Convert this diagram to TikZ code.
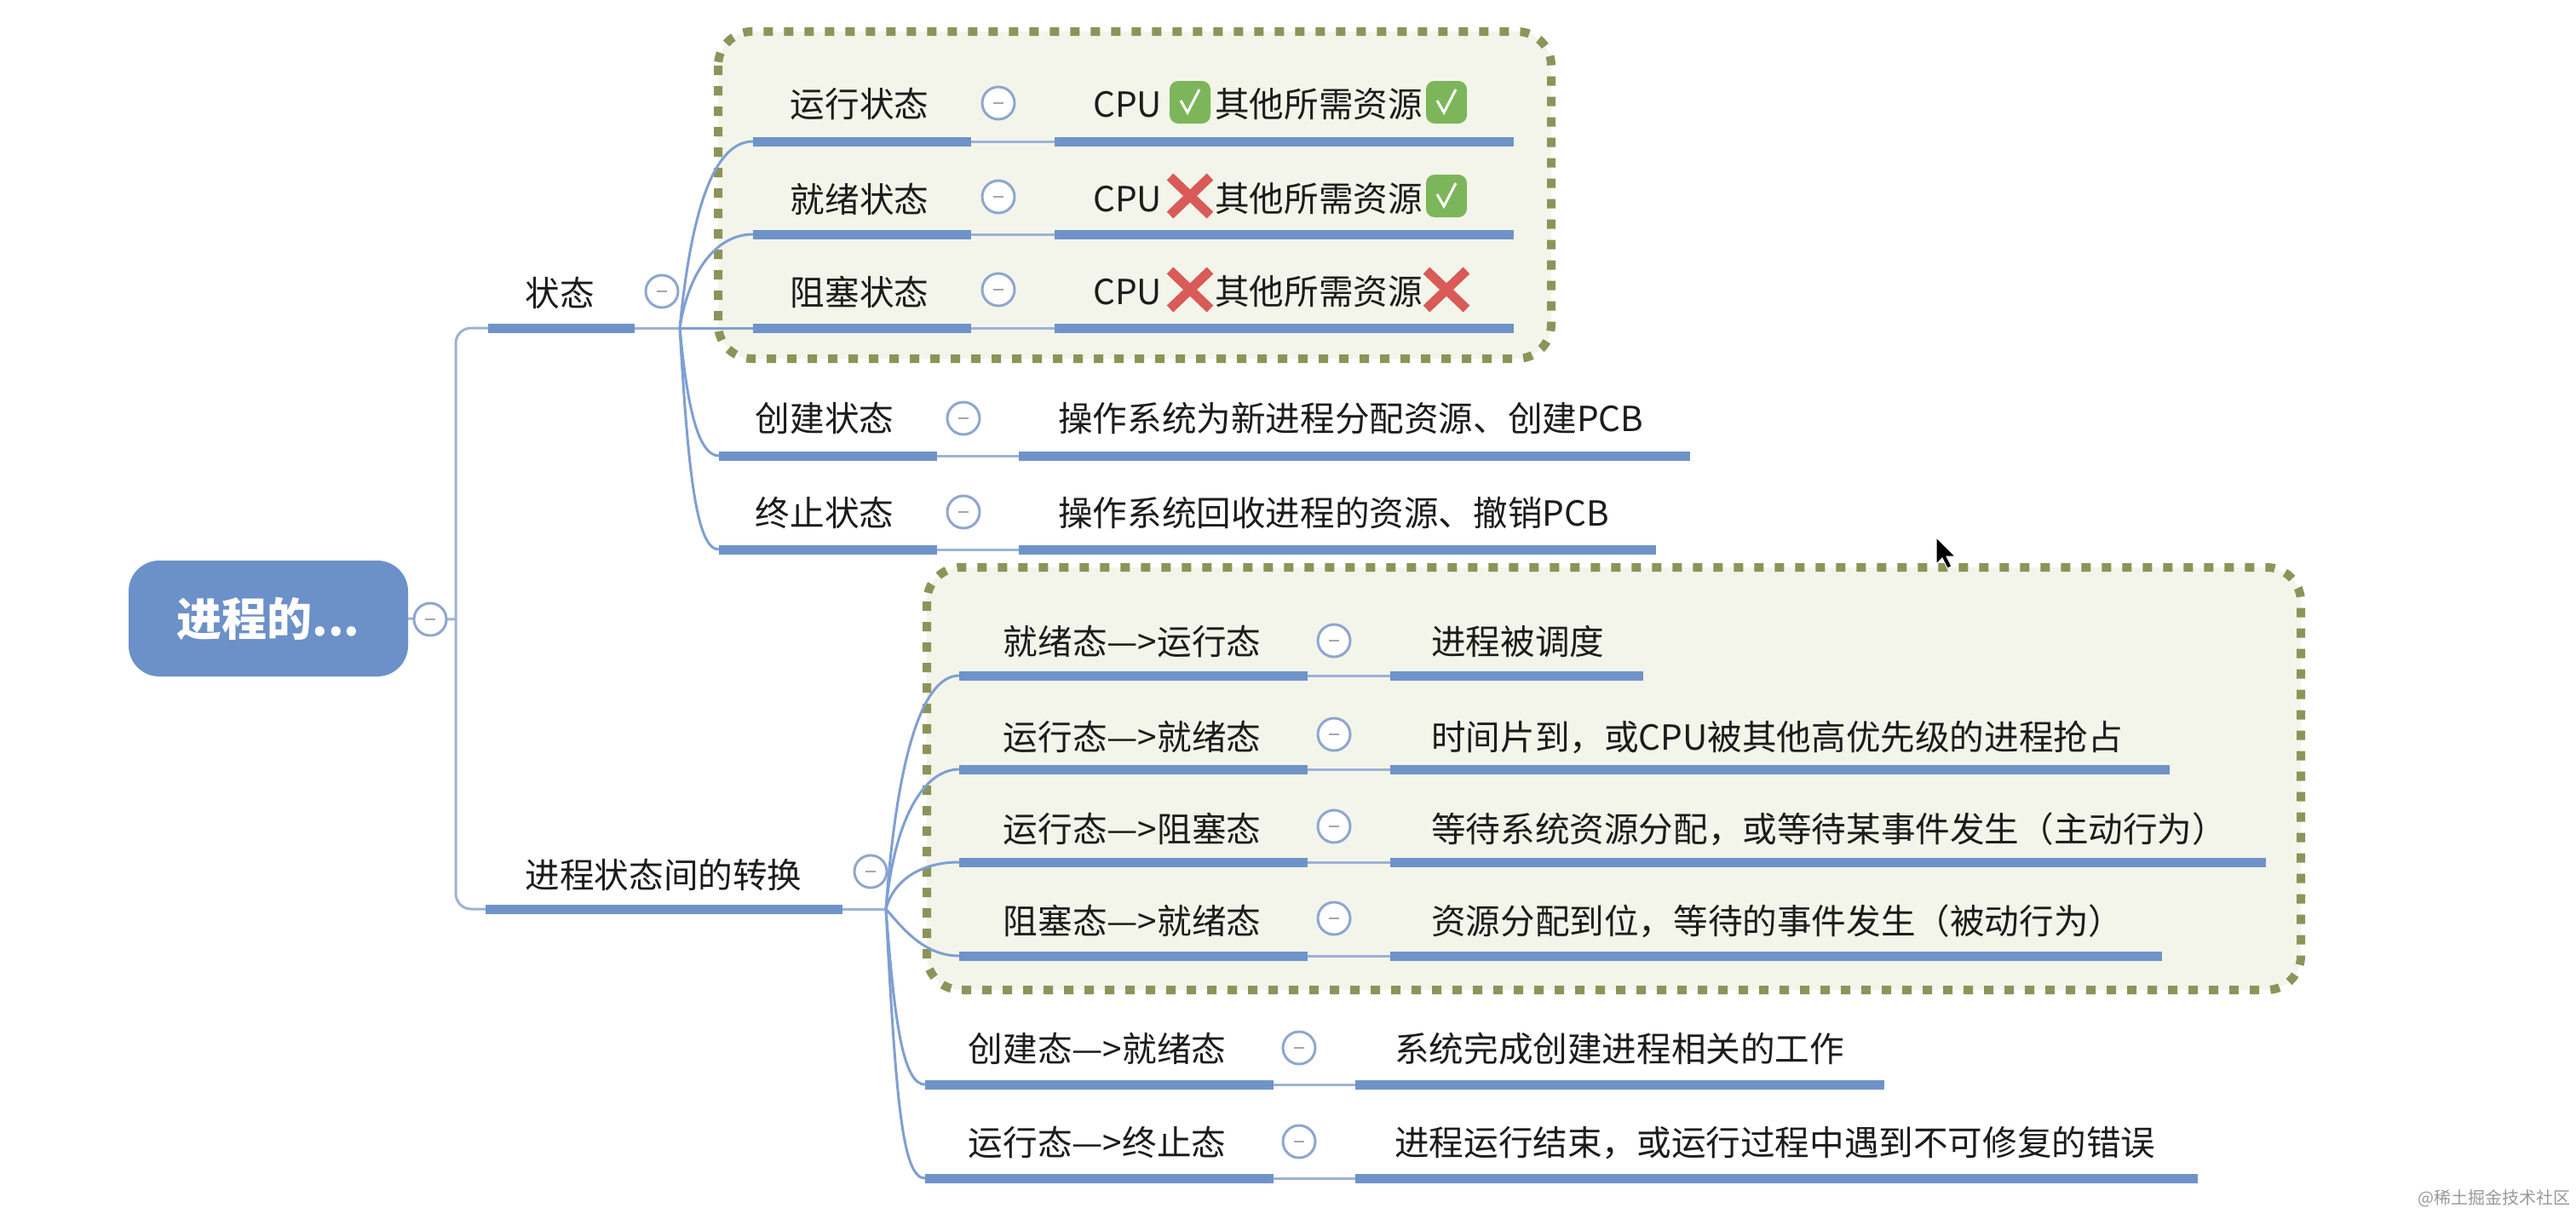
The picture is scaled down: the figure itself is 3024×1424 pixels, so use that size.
\documentclass[tikz,border=0pt]{standalone}
\usepackage{fontspec}
\setmainfont{Noto Sans CJK SC}
\usetikzlibrary{shapes.misc}
\definecolor{barblue}{HTML}{6F93C9}
\definecolor{rootblue}{HTML}{6C90C8}
\definecolor{linkblue}{HTML}{9DB2D8}
\definecolor{curveblue}{HTML}{7F9FD2}
\definecolor{togblue}{HTML}{8FA6CF}
\definecolor{dotgreen}{HTML}{8C9459}
\definecolor{boxfill}{HTML}{F3F5EA}
\definecolor{inktext}{HTML}{1C1C1C}
\definecolor{okgreen}{HTML}{7DB65A}
\definecolor{nored}{HTML}{D95A57}
\tikzset{
  lblstyle/.style={inner sep=0pt,text=inktext,font=\fontsize{40.6}{41}\selectfont,text height=35pt,text depth=6pt},
  barstyle/.style={rectangle,fill=barblue,inner sep=0pt,minimum height=11pt,anchor=west,draw=none},
  togstyle/.style={circle,draw=togblue,line width=3pt,fill=white,inner sep=0pt,minimum size=38pt},
  linkstyle/.style={draw=linkblue,line width=3pt},
  curvestyle/.style={draw=curveblue,line width=3pt},
  groupbox/.style={draw=dotgreen,fill=boxfill,line width=10pt,dash pattern=on 11pt off 13pt,rounded corners=40pt},
  okstyle/.style={rectangle,rounded corners=10pt,fill=okgreen,inner sep=0pt,minimum width=48pt,minimum height=50pt},
  nostyle/.style={cross out,draw=nored,line width=11pt,inner sep=0pt,minimum width=36pt,minimum height=34pt},
}
\newcommand\lblc[4]{\node[lblstyle,anchor=center] (#1) at (#2,#3) {#4};}
\newcommand\lbll[4]{\node[lblstyle,anchor=west] (#1) at (#2,#3) {#4};}
\newcommand\mybar[4]{\node[barstyle,minimum width={#3-#2}] (#1) at (#2,#4) {};}
\newcommand\tog[3]{\node[togstyle] (#1) at (#2,#3) {};\draw[line width=2pt,color=gray!70] ([xshift=-6pt]#1.center) -- ([xshift=6pt]#1.center);}
\newcommand\okm[3]{\node[okstyle] (#1) at (#2,#3) {};\draw[white,line width=3pt] ([xshift=-11pt,yshift=2pt]#1.center) -- ([xshift=-3pt,yshift=-12pt]#1.center) -- ([xshift=11pt,yshift=15pt]#1.center);}
\newcommand\nom[3]{\node[nostyle] (#1) at (#2,#3) {};}
\begin{document}
\begin{tikzpicture}[x=1pt,y=-1pt]
\useasboundingbox (0,0) rectangle (3024,1424);
\fill[white] (0,0) rectangle (3024,1424);
% group boxes
\draw[groupbox] (843,37) rectangle (1821,421);
\draw[groupbox] (1088,666) rectangle (2701,1162);
% hubs
\coordinate (hubroot) at (535,727);
\coordinate (hubst) at (798,385);
\coordinate (hubtr) at (1040,1067);
% root
\node[rectangle,rounded corners=36pt,fill=rootblue,text=white,inner sep=0pt,minimum width=328pt,minimum height=136pt,font=\fontsize{53}{53}\selectfont\bfseries] (root) at (315,726) {进程的...};
% level 1 bars
\mybar{st}{573}{745}{385}
\mybar{tr}{570}{989}{1067}
% state bars
\mybar{a1}{884}{1140}{166}\mybar{a2}{1238}{1777}{166}
\mybar{b1}{884}{1140}{275}\mybar{b2}{1238}{1777}{275}
\mybar{c1}{884}{1140}{385}\mybar{c2}{1238}{1777}{385}
\mybar{d1}{844}{1100}{535}\mybar{d2}{1196}{1984}{535}
\mybar{e1}{844}{1100}{645}\mybar{e2}{1196}{1944}{645}
% transition bars
\mybar{f1}{1126}{1535}{793}\mybar{f2}{1632}{1929}{793}
\mybar{g1}{1126}{1535}{903}\mybar{g2}{1632}{2547}{903}
\mybar{h1}{1126}{1535}{1012}\mybar{h2}{1632}{2660}{1012}
\mybar{i1}{1126}{1535}{1122}\mybar{i2}{1632}{2538}{1122}
\mybar{j1}{1086}{1495}{1273}\mybar{j2}{1591}{2212}{1273}
\mybar{k1}{1086}{1495}{1383}\mybar{k2}{1591}{2580}{1383}
% connectors
\draw[linkstyle] (root.east) -- (hubroot);
\draw[linkstyle,rounded corners=18pt] (hubroot) |- (st.west);
\draw[linkstyle,rounded corners=18pt] (hubroot) |- (tr.west);
\draw[linkstyle] (st.east) -- (hubst);
\draw[linkstyle] (tr.east) -- (hubtr);
\foreach \p/\q in {a1/a2,b1/b2,c1/c2,d1/d2,e1/e2,f1/f2,g1/g2,h1/h2,i1/i2,j1/j2,k1/k2}
  \draw[linkstyle] (\p.east) -- (\q.west);
\draw[curvestyle] (hubst) .. controls (812,240) and (840,166) .. (a1.west);
\draw[curvestyle] (hubst) .. controls (808,320) and (840,275) .. (b1.west);
\draw[curvestyle] (hubst) -- (c1.west);
\draw[curvestyle] (hubst) .. controls (806,470) and (818,535) .. (d1.west);
\draw[curvestyle] (hubst) .. controls (808,560) and (818,645) .. (e1.west);
\draw[curvestyle] (hubtr) .. controls (1052,900) and (1080,793) .. (f1.west);
\draw[curvestyle] (hubtr) .. controls (1050,960) and (1085,903) .. (g1.west);
\draw[curvestyle] (hubtr) .. controls (1050,1030) and (1085,1012) .. (h1.west);
\draw[curvestyle] (hubtr) .. controls (1060,1090) and (1085,1122) .. (i1.west);
\draw[curvestyle] (hubtr) .. controls (1050,1200) and (1060,1273) .. (j1.west);
\draw[curvestyle] (hubtr) .. controls (1052,1300) and (1060,1383) .. (k1.west);
% toggles
\tog{trt}{505}{727}
\tog{tst}{777}{342}
\tog{ttr}{1022}{1023}
\tog{ta}{1172}{121}\tog{tb}{1172}{231}\tog{tc}{1172}{340}
\tog{td}{1131}{491}\tog{te}{1131}{601}
\tog{tf}{1566}{752}\tog{tg}{1566}{862}\tog{th}{1566}{970}\tog{ti}{1566}{1078}
\tog{tj}{1525}{1230}\tog{tk}{1525}{1340}
% labels
\lblc{lst}{657}{345}{状态}
\lblc{ltr}{779}{1028}{进程状态间的转换}
\lblc{la}{1009}{123}{运行状态}
\lblc{lb}{1009}{235}{就绪状态}
\lblc{lc}{1009}{344}{阻塞状态}
\lblc{ld}{968}{492}{创建状态}
\lblc{le}{968}{603}{终止状态}
\lbll{acpu}{1283}{123}{CPU}\okm{ay}{1397}{120}\lbll{ares}{1426}{123}{其他所需资源}\okm{az}{1698}{120}
\lbll{bcpu}{1283}{234}{CPU}\nom{by}{1397}{230}\lbll{bres}{1426}{234}{其他所需资源}\okm{bz}{1698}{230}
\lbll{ccpu}{1283}{343}{CPU}\nom{cy}{1397}{340}\lbll{cres}{1426}{343}{其他所需资源}\nom{cz}{1698}{340}
\lbll{dt}{1242}{492}{操作系统为新进程分配资源、创建PCB}
\lbll{et}{1242}{603}{操作系统回收进程的资源、撤销PCB}
\lblc{lf}{1329}{754}{就绪态—>运行态}
\lblc{lg}{1329}{866}{运行态—>就绪态}
\lblc{lh}{1329}{974}{运行态—>阻塞态}
\lblc{li}{1329}{1082}{阻塞态—>就绪态}
\lblc{lj}{1288}{1232}{创建态—>就绪态}
\lblc{lk}{1288}{1342}{运行态—>终止态}
\lbll{ft}{1680}{754}{进程被调度}
\lbll{gt}{1680}{866}{时间片到，或CPU被其他高优先级的进程抢占}
\lbll{ht}{1680}{974}{等待系统资源分配，或等待某事件发生（主动行为）}
\lbll{it}{1680}{1082}{资源分配到位，等待的事件发生（被动行为）}
\lbll{jt}{1637}{1232}{系统完成创建进程相关的工作}
\lbll{kt}{1637}{1342}{进程运行结束，或运行过程中遇到不可修复的错误}
% cursor
\fill[black,draw=white,line width=1pt] (2273,631) -- (2273,662) -- (2280,655) -- (2286,667) -- (2291,665) -- (2285,653) -- (2295,653) -- cycle;
% watermark
\node[anchor=east,inner sep=0pt,text=black!40,font=\fontsize{20}{20}\selectfont] (wm) at (3018,1407) {@稀土掘金技术社区};
\end{tikzpicture}
\end{document}
